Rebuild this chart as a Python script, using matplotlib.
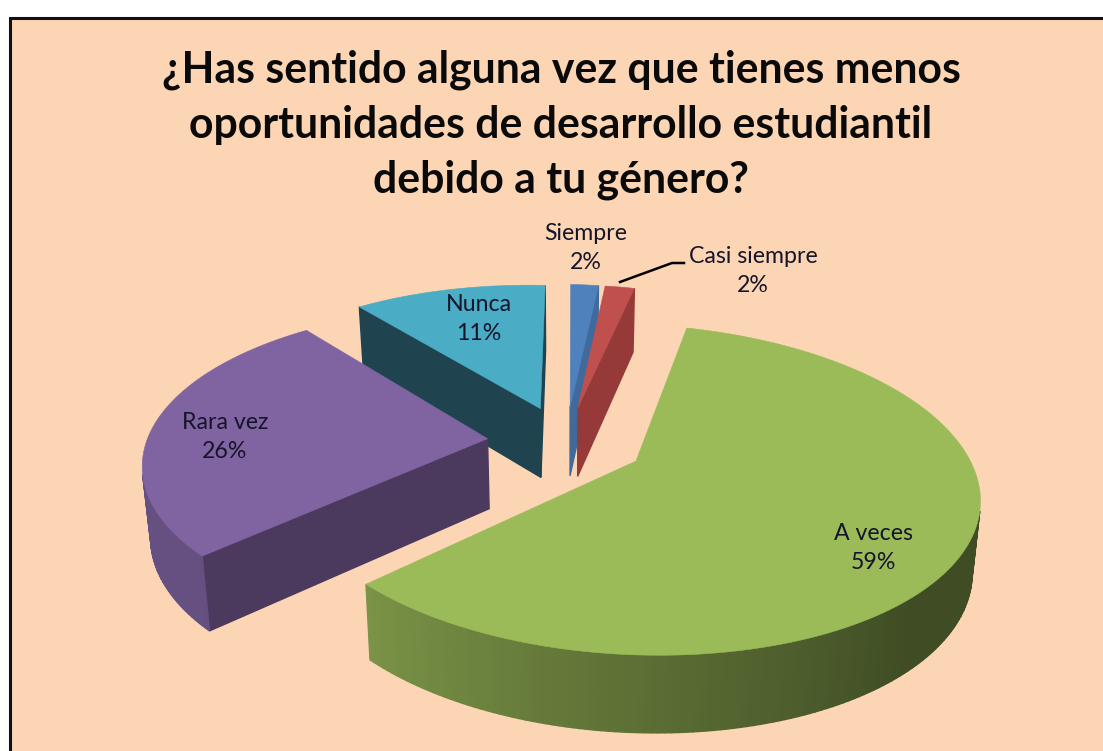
import numpy as np
import matplotlib
matplotlib.use('Agg')
import matplotlib.pyplot as plt
from matplotlib.patches import Polygon, Rectangle

# chart data
labels = ['Siempre', 'Casi siempre', 'A veces', 'Rara vez', 'Nunca']
values = [2, 2, 59, 26, 11]
shares = [1.6, 1.7, 59.4, 26.2, 11.1]
top_colors = ['#4F81BD', '#C0504D', '#9BBB59', '#8064A2', '#4BACC6']
side_colors = ['#3F6A9B', '#953A38', '#5C7035', '#4B3A5E', '#1F444F']
title = '¿Has sentido alguna vez que tienes menos\noportunidades de desarrollo estudiantil\ndebido a tu género?'

# view of the tilted pie, in pixels of the picture
CX, CY = 566, 442
A, B = 334, 154
K, SHEAR, SHEAR_Y = 0.17, 16, 13
ROT = -2.5
EXPLODE = 0.235
DEPTH = 70
DRAW_ORDER = [4, 0, 1, 3, 2]

# label centres (picture pixels)
label_pos = [(586, 248), (753, 271), (873, 548), (225, 437), (479, 319)]

BG = '#FCD5B5'


def project(u, v):
    w = 1 + K * v
    return CX + (A * u + SHEAR * v) / w, CY + (SHEAR_Y * u - B * v) / w, w


def lower(x, y, w):
    return CX + 0.98 * (x - CX), y + DEPTH / np.sqrt(w)


def area(xs, ys):
    return 0.5 * np.sum(xs * np.roll(ys, -1) - np.roll(xs, -1) * ys)


def wall_shade(angle):
    # lighting of the outer wall, clockwise angle from the back of the pie
    return np.interp(angle % 360, [90, 135, 180, 226, 275], [0.41, 0.41, 0.6, 0.8, 0.8])


def draw_slice(ax, start, end, top_color, side_color):
    mid = np.radians((start + end) / 2)
    du, dv = EXPLODE * np.sin(mid), EXPLODE * np.cos(mid)
    angles = np.linspace(start, end, max(int(end - start), 3) + 1)
    rad = np.radians(angles)
    u = np.concatenate([[du], du + np.sin(rad)])
    v = np.concatenate([[dv], dv + np.cos(rad)])
    x, y, w = project(u, v)
    bx, by = lower(x, y, w)
    orient = np.sign(area(x, y))
    n = len(x)
    rgb = np.array(matplotlib.colors.to_rgb(top_color))
    for i in range(n):
        j = (i + 1) % n
        fx = np.array([x[i], x[j], bx[j], bx[i]])
        fy = np.array([y[i], y[j], by[j], by[i]])
        if np.sign(area(fx, fy)) == orient:
            continue
        if i == 0 or j == 0:
            color = side_color
        else:
            color = tuple(rgb * wall_shade((angles[i - 1] + angles[j - 1]) / 2))
        ax.add_patch(Polygon(np.c_[fx, fy], closed=True, fc=color, ec=color, lw=1.0))
    ax.add_patch(Polygon(np.c_[x, y], closed=True, fc=top_color, ec=top_color, lw=0.4))


fig = plt.figure(figsize=(11.03, 7.51), dpi=100, facecolor='white')
ax = fig.add_axes([0, 0, 1, 1])
ax.set_xlim(0, 1103)
ax.set_ylim(751, 0)
ax.axis('off')

ax.add_patch(Rectangle((10, 17.5), 1200, 800, fc=BG, ec='#111111', lw=2.2))

edges = np.cumsum([0] + shares) * 3.6 + ROT
for i in DRAW_ORDER:
    draw_slice(ax, edges[i], edges[i + 1], top_colors[i], side_colors[i])

ax.plot([620, 672, 684], [282, 263, 263], color='black', lw=1.8)

ax.text(561, 125, title, ha='center', va='center', fontsize=30.8, fontweight='bold',
        family='Lato', color='#0A0A0A', linespacing=1.45)
for name, val, (lx, ly) in zip(labels, values, label_pos):
    ax.text(lx, ly, f'{name}\n{val}%', ha='center', va='center', fontsize=16.7,
            family='Lato', color='#15152A', linespacing=1.45)

fig.savefig('out.png', dpi=100)
